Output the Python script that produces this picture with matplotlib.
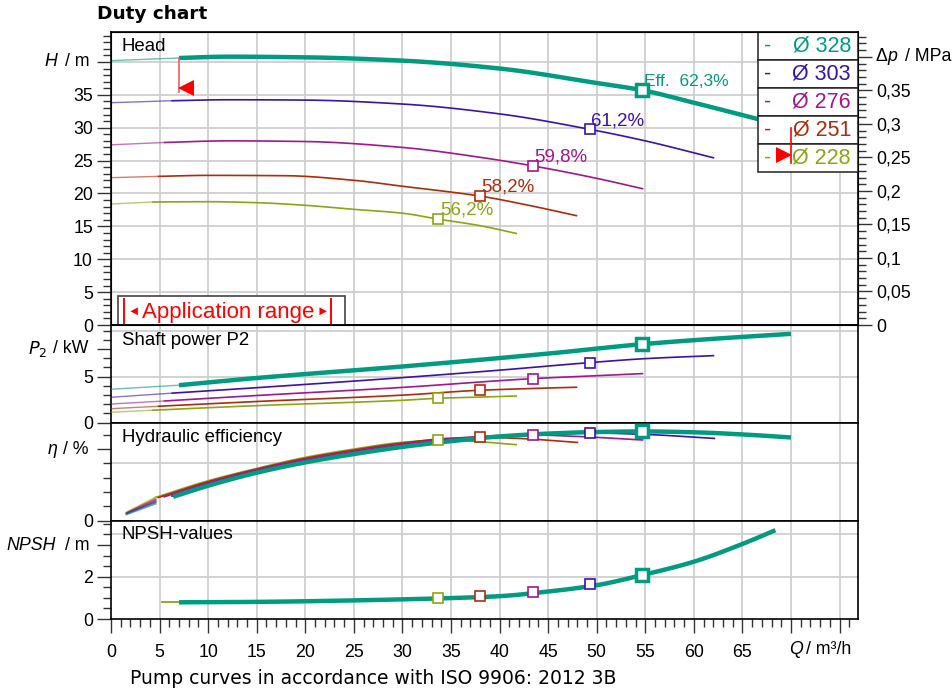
import numpy as np
import matplotlib
matplotlib.use('Agg')
import matplotlib.pyplot as plt
import matplotlib.transforms as mtransforms
from matplotlib.patches import Rectangle
from matplotlib.ticker import MultipleLocator, FixedLocator, FuncFormatter

plt.rcParams['font.family'] = ['Liberation Sans', 'DejaVu Sans']

# impeller diameters and colours
diameters = [328, 303, 276, 251, 228]
colors = ['#009b80', '#3a12b0', '#a3168e', '#b02a0c', '#8ca512']
q_min = [7.0, 6.2, 5.4, 4.8, 4.2]
bep_q = [54.7, 49.3, 43.4, 38.0, 33.7]
bep_labels = ['Eff.  62,3%', '61,2%', '59,8%', '58,2%', '56,2%']

# head H / m
head_q_328 = [0, 7, 12, 20, 30, 40, 50, 54.7, 60, 66.5, 70]
head_h_328 = [40.2, 40.6, 40.8, 40.7, 40.2, 39.0, 36.8, 35.7, 33.8, 31.35, 30.0]
head_q_303 = [0, 6.2, 12, 20, 30, 40, 49.3, 55, 62.1]
head_h_303 = [33.8, 34.1, 34.25, 34.2, 33.6, 32.1, 29.75, 28.0, 25.4]
head_q_276 = [0, 5.4, 12, 20, 30, 38, 43.4, 50, 54.8]
head_h_276 = [27.4, 27.75, 28.0, 27.9, 27.0, 25.5, 24.2, 22.3, 20.7]
head_q_251 = [0, 4.8, 10, 18, 25, 30, 38, 43, 48]
head_h_251 = [22.4, 22.6, 22.75, 22.7, 22.0, 21.1, 19.6, 18.2, 16.6]
head_q_228 = [0, 4.2, 10, 15, 20, 24.9, 30, 33.7, 38, 41.8]
head_h_228 = [18.4, 18.7, 18.75, 18.6, 18.2, 17.6, 17.0, 16.1, 15.1, 13.9]

# shaft power P2 / kW
pow_q_328 = [0, 7, 15, 30, 45, 54.7, 62, 70]
pow_p_328 = [3.63, 4.07, 4.85, 6.1, 7.5, 8.52, 9.1, 9.64]
pow_q_303 = [0, 6.2, 15, 30, 40, 49.3, 55, 62.1]
pow_p_303 = [2.76, 3.2, 3.8, 4.89, 5.7, 6.52, 6.95, 7.28]
pow_q_276 = [0, 5.4, 15, 30, 43.4, 50, 54.8]
pow_p_276 = [2.03, 2.35, 2.95, 3.83, 4.78, 5.1, 5.33]
pow_q_251 = [0, 4.8, 15, 30, 38, 43, 48]
pow_p_251 = [1.52, 1.78, 2.3, 2.99, 3.52, 3.7, 3.85]
pow_q_228 = [0, 4.2, 15, 30, 33.7, 38, 41.8]
pow_p_228 = [1.13, 1.35, 1.85, 2.43, 2.65, 2.78, 2.9]

# hydraulic efficiency / %
eff_thin_q = [1.6, 4.6]
eff_thin_328 = [4.4, 11.9]
eff_thin_303 = [4.8, 13.0]
eff_thin_276 = [5.1, 14.0]
eff_thin_251 = [5.4, 15.0]
eff_thin_228 = [5.8, 16.3]
eff_q_328 = [6.4, 10, 15, 20, 25, 30, 35, 40, 45, 50, 54.7, 60, 65, 70]
eff_e_328 = [16.7, 24.4, 33.5, 40.7, 46.5, 51.5, 55.5, 58.8, 60.8, 61.9, 62.3, 61.7, 60.2, 58.1]
eff_q_303 = [6.2, 10, 15, 20, 25, 30, 35, 40, 45, 49.3, 55, 62.2]
eff_e_303 = [17.0, 25.5, 34.5, 41.8, 47.5, 52.5, 56.2, 59.0, 60.7, 61.2, 60.2, 57.4]
eff_q_276 = [5.4, 10, 15, 20, 25, 30, 35, 40, 43.4, 48, 54.8]
eff_e_276 = [16.5, 26.5, 35.5, 42.8, 48.5, 53.5, 57.2, 59.4, 59.8, 58.8, 56.3]
eff_q_251 = [4.8, 10, 15, 20, 25, 30, 35, 38, 42, 48.1]
eff_e_251 = [16.0, 27.2, 36.0, 43.5, 49.3, 54.2, 57.6, 58.2, 57.4, 54.6]
eff_q_228 = [4.6, 10, 15, 20, 25, 30, 33.7, 37, 41.8]
eff_e_228 = [16.3, 27.9, 36.5, 44.2, 50.0, 54.7, 56.2, 55.5, 53.0]

# NPSH / m
npsh_q = [7, 15, 25, 30, 35, 40, 45, 50, 54.7, 60, 65, 68.4]
npsh_v = [0.79, 0.81, 0.88, 0.93, 0.99, 1.08, 1.3, 1.6, 2.08, 2.71, 3.55, 4.2]
npsh_stub_q = [5.2, 7.0]
npsh_stub_v = [0.80, 0.80]
npsh_bep = [2.08, 1.64, 1.28, 1.09, 0.98]

head_q = [head_q_328, head_q_303, head_q_276, head_q_251, head_q_228]
head_h = [head_h_328, head_h_303, head_h_276, head_h_251, head_h_228]
pow_q = [pow_q_328, pow_q_303, pow_q_276, pow_q_251, pow_q_228]
pow_p = [pow_p_328, pow_p_303, pow_p_276, pow_p_251, pow_p_228]
eff_thin = [eff_thin_328, eff_thin_303, eff_thin_276, eff_thin_251, eff_thin_228]
eff_q = [eff_q_328, eff_q_303, eff_q_276, eff_q_251, eff_q_228]
eff_e = [eff_e_328, eff_e_303, eff_e_276, eff_e_251, eff_e_228]


def smooth(x, y, n=120):
    # monotone cubic hermite through the read points, only for drawing
    x = np.asarray(x, float)
    y = np.asarray(y, float)
    if len(x) < 3:
        return x, y
    h = np.diff(x)
    d = np.diff(y) / h
    m = np.zeros_like(y)
    m[0], m[-1] = d[0], d[-1]
    for k in range(1, len(x) - 1):
        if d[k - 1] * d[k] <= 0:
            m[k] = 0
        else:
            w1 = 2 * h[k] + h[k - 1]
            w2 = h[k] + 2 * h[k - 1]
            m[k] = (w1 + w2) / (w1 / d[k - 1] + w2 / d[k])
    xs = np.linspace(x[0], x[-1], n)
    i = np.clip(np.searchsorted(x, xs) - 1, 0, len(x) - 2)
    t = (xs - x[i]) / h[i]
    ys = ((2 * t**3 - 3 * t**2 + 1) * y[i] + (t**3 - 2 * t**2 + t) * h[i] * m[i]
          + (-2 * t**3 + 3 * t**2) * y[i + 1] + (t**3 - t**2) * h[i] * m[i + 1])
    return xs, ys


def curve(ax, x, y, **kw):
    xs, ys = smooth(x, y)
    ax.plot(xs, ys, solid_capstyle='butt', **kw)


fig = plt.figure(figsize=(9.53, 6.93), dpi=100)
L, W = 111 / 953, 747 / 953


def ax_at(top, bot):
    return fig.add_axes([L, 1 - bot / 693, W, (bot - top) / 693])


def fx(px):
    return (px - 111) / 747


axH = ax_at(31.7, 325)
axP = ax_at(325, 422.7)
axE = ax_at(422.7, 520.7)
axN = ax_at(520.7, 619)
axes = [axH, axP, axE, axN]

grid_c = '#cfcfcf'
for ax in axes:
    ax.set_xlim(0, 76.9)
    for s in ax.spines.values():
        s.set_linewidth(1.2)
    for q in range(5, 76, 5):
        ax.axvline(q, color=grid_c, lw=1.3, zorder=0)
    ax.xaxis.set_major_locator(MultipleLocator(5))
    ax.xaxis.set_minor_locator(MultipleLocator(1))
    ax.tick_params(which='major', direction='out', length=10, width=1, color='#333333', labelsize=12.8, pad=3)
    ax.tick_params(which='minor', direction='out', length=6, width=1, color='#333333')
    if ax is not axN:
        ax.tick_params(axis='x', which='both', bottom=False, labelbottom=False)

axN.xaxis.set_major_formatter(FuncFormatter(lambda v, p: '' if v >= 70 else f'{v:.0f}'))
axN.tick_params(axis='x', which='major', pad=8)

# ---- head panel
axH.set_ylim(0, 44.6)
axH.yaxis.set_major_locator(FixedLocator(list(range(0, 45, 5))))
axH.yaxis.set_major_formatter(FuncFormatter(lambda v, p: '' if v >= 40 else f'{v:.0f}'))
axH.yaxis.set_minor_locator(MultipleLocator(1))
for h in range(5, 45, 5):
    axH.axhline(h, color=grid_c, lw=1.3, zorder=0)

for i in reversed(range(5)):
    q, h, c = head_q[i], head_h[i], colors[i]
    k = q.index(q_min[i])
    lw = 3.2 if i == 0 else 1.2
    curve(axH, q[:k + 1], h[:k + 1], color=c, lw=1.0, alpha=0.6, zorder=3)
    curve(axH, q[k:], h[k:], color=c, lw=lw, zorder=3)
    hb = h[q.index(bep_q[i])]
    axH.plot(bep_q[i], hb, marker='s', mfc='white', mec=c,
             ms=9 if i == 0 else 7.5, mew=2.5 if i == 0 else 1.2, zorder=4)
    axH.annotate(bep_labels[i], (bep_q[i], hb), xytext=(1, 3), textcoords='offset points',
                 color=c, fontsize=12.5 if i == 0 else 13.5, va='baseline', ha='left', zorder=4)

# Qmin / Qmax indicators
axH.plot([7, 7], [40.6, 35.5], color='#f06060', lw=1.2, zorder=6)
axH.plot(7.75, 36.1, marker='<', color='red', ms=11, mew=0, zorder=6)
axH.plot([70, 70], [30.0, 24.7], color='red', lw=1.2, zorder=7)
axH.plot(69.25, 25.9, marker='>', color='red', ms=11, mew=0, zorder=7)

# application range box
axH.add_patch(Rectangle((0.7, 0), 23.4, 4.41, facecolor='white', edgecolor='#444444', lw=1.2, zorder=5))
for qx in (1.34, 22.66):
    axH.plot([qx, qx], [0.3, 3.9], color='red', lw=1.4, zorder=6)
axH.text(2.3, 2.0, '◄', color='red', fontsize=9, ha='center', va='center', zorder=6)
axH.text(21.75, 2.0, '►', color='red', fontsize=9, ha='center', va='center', zorder=6)
axH.text(12.05, 1.9, 'Application range', color='red', fontsize=16, ha='center', va='center', zorder=6)

# legend box
row_h = (1 - 0.5206) / 5
for i in range(5):
    y0 = 1 - (i + 1) * row_h
    axH.add_patch(Rectangle((0.8665, y0), 1 - 0.8665, row_h, transform=axH.transAxes,
                            facecolor='white', edgecolor='#222222', lw=1.1, zorder=5))
    axH.text(fx(764), y0 + row_h / 2, '-', color=colors[i], fontsize=15.5, va='center',
             transform=axH.transAxes, zorder=6)
    axH.text(fx(851), y0 + row_h / 2, f'Ø {diameters[i]}', color=colors[i], fontsize=15.5,
             va='center', ha='right', transform=axH.transAxes, zorder=6)

# right axis delta p
axR = axH.twinx()
axR.set_ylim(0, 44.6 * 0.00981)
axR.yaxis.set_major_locator(FixedLocator([0, 0.05, 0.1, 0.15, 0.2, 0.25, 0.3, 0.35, 0.4]))
axR.yaxis.set_major_formatter(FuncFormatter(lambda v, p: '' if v > 0.38 else f'{v:.2f}'.rstrip('0').rstrip('.').replace('.', ',')))
axR.yaxis.set_minor_locator(MultipleLocator(0.01))
axR.tick_params(which='major', direction='out', length=10, width=1, color='#333333', labelsize=12.8, pad=3)
axR.tick_params(which='minor', direction='out', length=6, width=1, color='#333333')

# ---- power panel
axP.set_ylim(0, 10.6)
axP.yaxis.set_major_locator(FixedLocator([0, 5, 8]))
axP.yaxis.set_major_formatter(FuncFormatter(lambda v, p: '' if v > 6 else f'{v:.0f}'))
axP.yaxis.set_minor_locator(MultipleLocator(1))
for v in (5, 10):
    axP.axhline(v, color=grid_c, lw=1.3, zorder=0)
for i in reversed(range(5)):
    q, p, c = pow_q[i], pow_p[i], colors[i]
    k = q.index(q_min[i])
    curve(axP, q[:k + 1], p[:k + 1], color=c, lw=1.0, alpha=0.6, zorder=3)
    curve(axP, q[k:], p[k:], color=c, lw=3.2 if i == 0 else 1.2, zorder=3)
    axP.plot(bep_q[i], p[q.index(bep_q[i])], marker='s', mfc='white', mec=c,
             ms=9 if i == 0 else 7.5, mew=2.5 if i == 0 else 1.2, zorder=4)

# ---- efficiency panel
axE.set_ylim(0, 68.4)
axE.yaxis.set_major_locator(FixedLocator([0, 50]))
axE.yaxis.set_major_formatter(FuncFormatter(lambda v, p: '' if v > 0 else '0'))
axE.yaxis.set_minor_locator(MultipleLocator(10))
axE.axhline(40, color=grid_c, lw=1.3, zorder=0)
for i in reversed(range(5)):
    c = colors[i]
    axE.plot(eff_thin_q, eff_thin[i], color=c, lw=1.3, alpha=0.7, zorder=3)
    curve(axE, eff_q[i], eff_e[i], color=c, lw=3.2 if i == 0 else 1.2, zorder=3 if i else 3.5)
    axE.plot(bep_q[i], eff_e[i][eff_q[i].index(bep_q[i])], marker='s', mfc='white', mec=c,
             ms=9 if i == 0 else 7.5, mew=2.5 if i == 0 else 1.2, zorder=4)

# ---- NPSH panel
axN.set_ylim(0, 4.65)
axN.yaxis.set_major_locator(FixedLocator([0, 2, 3.5]))
axN.yaxis.set_major_formatter(FuncFormatter(lambda v, p: '' if v > 3 else f'{v:.0f}'))
axN.yaxis.set_minor_locator(MultipleLocator(0.5))
for v in (2, 4):
    axN.axhline(v, color=grid_c, lw=1.3, zorder=0)
axN.plot(npsh_stub_q, npsh_stub_v, color=colors[4], lw=1.3, zorder=3)
curve(axN, npsh_q, npsh_v, color=colors[0], lw=3.2, zorder=3)
for i in reversed(range(5)):
    axN.plot(bep_q[i], npsh_bep[i], marker='s', mfc='white', mec=colors[i],
             ms=9 if i == 0 else 7.5, mew=2.5 if i == 0 else 1.2, zorder=4)

# panel captions
axH.text(fx(122), 0.951, 'Head', fontsize=13.4, va='center', transform=axH.transAxes, zorder=6)
axP.text(fx(122), 0.846, 'Shaft power P2', fontsize=13.4, va='center', transform=axP.transAxes)
axE.text(fx(122), 0.854, 'Hydraulic efficiency', fontsize=13.4, va='center', transform=axE.transAxes)
axN.text(fx(122), 0.855, 'NPSH-values', fontsize=13.4, va='center', transform=axN.transAxes)


# axis labels (placed on the tick positions)
def ylab(ax, y, parts):
    tr = mtransforms.blended_transform_factory(ax.transAxes, ax.transData)
    for txt, px, style in parts:
        ax.text(fx(px), y, txt, fontsize=12.8, fontstyle=style, ha='left', va='center',
                transform=tr, clip_on=False)


ylab(axH, 40, [('H', 44, 'italic'), ('/ m', 65, 'normal')])
ylab(axP, 8, [('$P_2$', 28, 'normal'), ('/ kW', 53, 'normal')])
ylab(axE, 50, [('η', 48, 'italic'), ('/ %', 63, 'normal')])
ylab(axN, 3.5, [('NPSH', 6, 'italic'), ('/ m', 65, 'normal')])
ylab(axR, 0.4, [('Δ', 876, 'normal'), ('p', 887, 'italic'), ('/ MPa', 905, 'normal')])

trq = mtransforms.blended_transform_factory(axN.transData, axN.transAxes)
axN.text(69.8, -0.315, 'Q', fontsize=12.8, fontstyle='italic', ha='left', va='center', transform=trq)
axN.text(71.5, -0.315, '/ m³/h', fontsize=12.8, ha='left', va='center', transform=trq)

fig.text(97 / 953, 1 - 14 / 693, 'Duty chart', fontfamily='DejaVu Sans', fontweight='bold',
         fontsize=13.3, va='center')
fig.text(130 / 953, 1 - 678 / 693, 'Pump curves in accordance with ISO 9906: 2012 3B',
         fontfamily='DejaVu Sans', fontsize=13.5, va='center')

fig.savefig('out.png', dpi=100, facecolor='white')
